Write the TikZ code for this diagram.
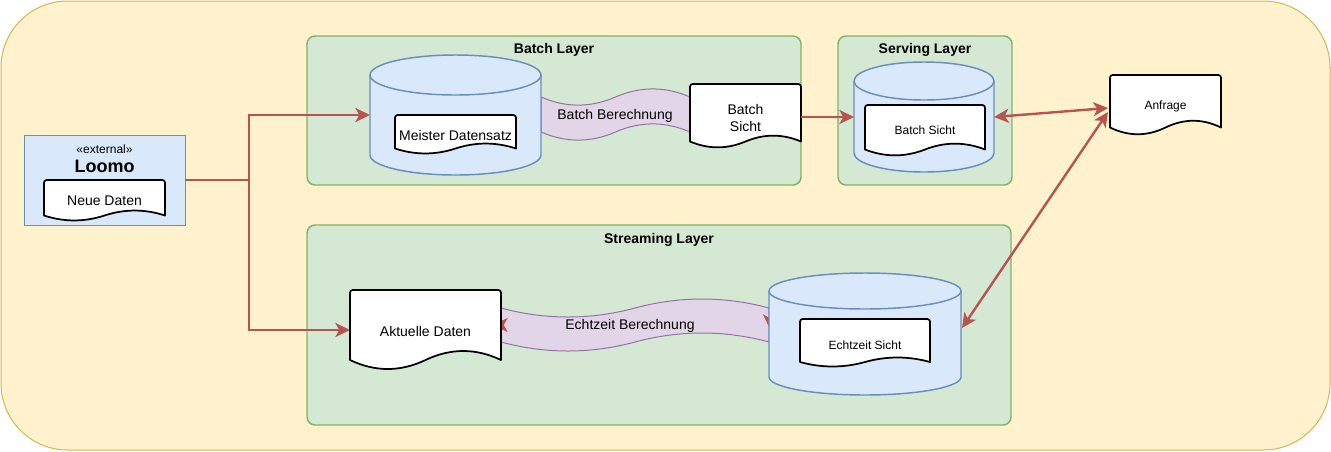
\documentclass[tikz,border=0pt]{standalone}
\usepackage{fontspec}
\setmainfont{Liberation Sans}
\usetikzlibrary{arrows.meta,calc}
\definecolor{bgfill}{HTML}{FFF2CC}
\definecolor{bgdraw}{HTML}{D6B656}
\definecolor{greenfill}{HTML}{D5E8D4}
\definecolor{greendraw}{HTML}{82B366}
\definecolor{bluefill}{HTML}{DAE8FC}
\definecolor{bluedraw}{HTML}{6C8EBF}
\definecolor{purplefill}{HTML}{E1D5E7}
\definecolor{purpledraw}{HTML}{9673A6}
\definecolor{redc}{HTML}{B85450}
\tikzset{
  box/.style={rectangle, draw=none, inner sep=0pt, outer sep=0pt},
  layerbox/.style={box, rounded corners=6pt, fill=greenfill, draw=greendraw, line width=1.1pt},
  docst/.style={fill=white, draw=black, line width=1.3pt, line join=round},
  cylst/.style={fill=bluefill, draw=bluedraw, line width=1.1pt},
  bandst/.style={fill=purplefill, draw=purpledraw, line width=0.75pt},
  redtip/.tip={Stealth[length=11pt,width=10.5pt,inset=3pt]},
  arr/.style={draw=redc, line width=1.8pt, -redtip},
  arrboth/.style={draw=redc, line width=1.8pt, redtip-redtip},
  lbl/.style={inner sep=0pt, font=\fontsize{10.5}{12.75}\selectfont, align=center},
  sml/.style={inner sep=0pt, font=\fontsize{9}{11}\selectfont, align=center},
  ttl/.style={inner sep=0pt, font=\bfseries\fontsize{10.5}{12.75}\selectfont},
}
% document shape: #1 name, #2 x0, #3 y0, #4 w, #5 h, #6 dy
\newcommand{\docushape}[6]{%
  \draw[docst] ({#2},{#3+#5-#6/2}) [rounded corners=2pt] -- ({#2},{#3}) -- ({#2+#4},{#3}) [sharp corners] -- ({#2+#4},{#3+#5-#6/2})
    .. controls ({#2+5*#4/6},{#3+#5-1.1*#6}) and ({#2+2*#4/3},{#3+#5-1.1*#6}) .. ({#2+#4/2},{#3+#5-#6/2})
    .. controls ({#2+#4/3},{#3+#5+0.1*#6}) and ({#2+#4/6},{#3+#5+0.1*#6}) .. cycle;
  \node[box, minimum width={#4*0.75pt}, minimum height={#5*0.75pt}] (#1) at ({#2+#4/2},{#3+#5/2}) {};
}
% cylinder: #1 name, #2 x0, #3 y0, #4 x1, #5 y1, #6 ry
\newcommand{\cylshape}[6]{%
  \path[cylst] ({#2},{#3+#6}) -- ({#2},{#5-#6})
    arc[start angle=180, end angle=0, x radius={(#4-#2)/2}, y radius={#6}]
    -- ({#4},{#3+#6})
    arc[start angle=0, end angle=-180, x radius={(#4-#2)/2}, y radius={#6}] -- cycle;
  \draw[cylst, fill=none] ({#2},{#3+#6}) arc[start angle=180, end angle=0, x radius={(#4-#2)/2}, y radius={#6}];
  \node[box, minimum width={(#4-#2)*0.75pt}, minimum height={(#5-#3)*0.75pt}] (#1) at ({(#2+#4)/2},{(#3+#5)/2}) {};
}
% tape band: #1 name, #2 x0, #3 x1, #4 top base, #5 bottom base, #6 dy
\newcommand{\bandshape}[6]{%
  \draw[bandst] ({#2},{#4})
    .. controls ({#2+(#3-#2)/6},{#4+0.6*#6}) and ({#2+(#3-#2)/3},{#4+0.6*#6}) .. ({(#2+#3)/2},{#4})
    .. controls ({#2+2*(#3-#2)/3},{#4-0.6*#6}) and ({#2+5*(#3-#2)/6},{#4-0.6*#6}) .. ({#3},{#4})
    -- ({#3},{#5})
    .. controls ({#2+5*(#3-#2)/6},{#5-0.6*#6}) and ({#2+2*(#3-#2)/3},{#5-0.6*#6}) .. ({(#2+#3)/2},{#5})
    .. controls ({#2+(#3-#2)/3},{#5+0.6*#6}) and ({#2+(#3-#2)/6},{#5+0.6*#6}) .. ({#2},{#5}) -- cycle;
  \node[box, minimum width={(#3-#2)*0.75pt}, minimum height={(#5-#4+#6)*0.75pt}] (#1) at ({(#2+#3)/2},{(#4+#5)/2}) {};
}
\begin{document}
\begin{tikzpicture}[x=0.75pt, y=-0.75pt]
\useasboundingbox (0,0) rectangle (1331,451);
% background
\node[box, fill=bgfill, draw=bgdraw, line width=0.75pt, rounded corners=50pt,
      minimum width={1329*0.75pt}, minimum height={449*0.75pt}] (bg) at (665.5,225.5) {};
% Loomo
\node[box, fill=bluefill, draw=bluedraw, line width=0.75pt,
      minimum width={161*0.75pt}, minimum height={90*0.75pt}] (loomo) at (104.5,180) {};
\node[sml] (extT) at (104.5,149) {«external»};
\node[inner sep=0pt, font=\bfseries\fontsize{13.5}{16}\selectfont] (loomoT) at (104.5,166) {Loomo};
\docushape{neue}{44}{180}{121}{41}{11}
\node[lbl] (neueT) at (104.5,201) {Neue Daten};
% layers
\node[layerbox, minimum width={494*0.75pt}, minimum height={149*0.75pt}] (batch) at (554,110.5) {};
\node[ttl] (batchT) at (554,50) {Batch Layer};
\node[layerbox, minimum width={174*0.75pt}, minimum height={149*0.75pt}] (serving) at (925,110.5) {};
\node[ttl] (servT) at (925,50) {Serving Layer};
\node[layerbox, minimum width={704*0.75pt}, minimum height={200*0.75pt}] (stream) at (659,325) {};
\node[ttl] (streamT) at (659,240) {Streaming Layer};
% bands
\bandshape{bandA}{541}{690}{97}{132}{18}
\bandshape{bandB}{501}{769}{308}{342}{20}
% batch layer contents
\cylshape{cylA}{370}{55}{541}{175}{20}
\docushape{meister}{395}{115}{121}{39}{11}
\node[lbl] (meisterT) at (455.5,135) {Meister Datensatz};
\node[lbl] (bbT) at (615,116) {Batch Berechnung};
\docushape{bsA}{690}{84}{111}{64}{13}
\node[lbl] (bsAT) at (745.5,118) {Batch\\Sicht};
% serving layer contents
\cylshape{cylB}{854}{62}{994}{172}{19}
\docushape{bsB}{865}{105}{120}{51}{13}
\node[sml] (bsBT) at (925,130) {Batch Sicht};
% Anfrage
\docushape{anf}{1110}{75}{111}{60}{15}
\node[sml] (anfT) at (1165.5,106) {Anfrage};
% streaming: connector behind the band (only tips visible)
\coordinate (hidA) at ($(bandB.west)+(-8,0)$);
\coordinate (hidB) at ($(bandB.east)+(1,4)$);
\draw[draw=purplefill, line width=1.5pt, {Stealth[length=11pt,width=10.5pt,inset=3pt,color=redc]}-{Stealth[length=11pt,width=10.5pt,inset=3pt,color=redc]}]
  (hidA) .. controls ($(hidA)+(110,0)$) and ($(hidB)+(0,-14)$) .. (hidB);
\cylshape{cylC}{769}{273}{961}{395}{18}
\docushape{esD}{800}{319}{130}{48}{10}
\node[sml] (esT) at (865,345) {Echtzeit Sicht};
\docushape{akt}{350}{290}{151}{80}{20}
\node[lbl] (aktT) at (425.5,331) {Aktuelle Daten};
\node[lbl] (ebT) at (630,326) {Echtzeit Berechnung};
% connectors
\coordinate (split) at (249,180);
\draw[draw=redc, line width=1.8pt] (loomo.east) -- (split);
\draw[arr] (split) |- (cylA.west);
\draw[arr] (split) |- (akt.west);
\draw[arr] (bsA.east |- cylB.west) -- (cylB.west);
\draw[arrboth] (cylB.east) -- ($(anf.west)+(-2,3)$);
\draw[arrboth] ($(anf.west)+(-2,7)$) -- ($(cylC.east)+(1,-6)$);
\end{tikzpicture}
\end{document}
